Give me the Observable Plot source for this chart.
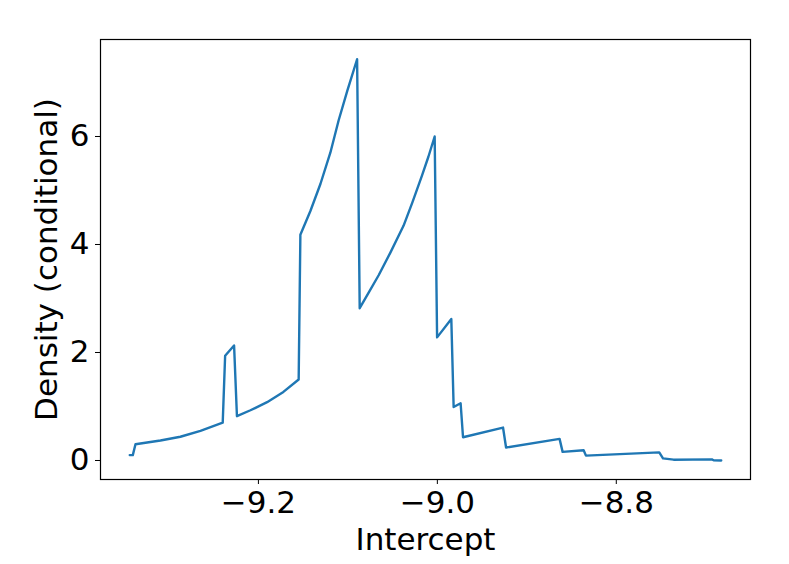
<!DOCTYPE html>
<html>
<head>
<meta charset="utf-8">
<script src="https://cdn.jsdelivr.net/npm/d3@7"></script>
<script src="https://cdn.jsdelivr.net/npm/@observablehq/plot@0.6"></script>
<style>
  html, body { margin: 0; padding: 0; background: #fff; }
  #chart { width: 789px; height: 564px; }
</style>
</head>
<body>
<div id="chart"></div>
<script>
// Intercept values (x)
const intercept = [
  -9.3438, -9.3404, -9.3374, -9.3095, -9.2872, -9.2648, -9.2399, -9.2372,
  -9.2272, -9.2240, -9.2089, -9.1903, -9.1721, -9.1550, -9.1531, -9.1419,
  -9.1307, -9.1196, -9.1103, -9.1006, -9.0897, -9.0868, -9.0771, -9.0656,
  -9.0525, -9.0377, -9.0279, -9.0171, -9.0101, -9.0030, -9.0003, -8.9844,
  -8.9818, -8.9740, -8.9713, -8.9266, -8.9232, -8.8634, -8.8600, -8.8365,
  -8.8339, -8.7520, -8.7478, -8.7360, -8.6931, -8.6913, -8.6827
];
// Conditional density values (y)
const density = [
  0.10, 0.10, 0.30, 0.37, 0.44, 0.55, 0.70, 1.94,
  2.13, 0.82, 0.93, 1.08, 1.27, 1.50, 4.18, 4.62,
  5.12, 5.70, 6.30, 6.85, 7.43, 2.82, 3.10, 3.43,
  3.85, 4.35, 4.78, 5.28, 5.62, 6.00, 2.28, 2.62,
  0.99, 1.06, 0.43, 0.61, 0.24, 0.40, 0.16, 0.19,
  0.09, 0.15, 0.04, 0.015, 0.02, 0.005, 0.0
];
const xTicks = [-9.2, -9.0, -8.8];
const yTicks = [0, 2, 4, 6];
const xLabel = "Intercept";
const yLabel = "Density (conditional)";

const data = intercept.map((x, i) => ({x, y: density[i]}));
const fmtX = d => d.toFixed(1).replace("-", "\u2212");
const FS = 31;

const chart = Plot.plot({
  width: 789,
  height: 564,
  marginLeft: 100,
  marginRight: 39,
  marginTop: 39,
  marginBottom: 85,
  style: {fontFamily: "DejaVu Sans", fontSize: FS + "px", color: "black", background: "white"},
  x: {domain: [-9.3765, -8.650]},
  y: {domain: [-0.352, 7.796]},
  marks: [
    Plot.line(data, {x: "x", y: "y", stroke: "#1f77b4", strokeWidth: 2.4}),
    Plot.frame({stroke: "black", strokeWidth: 1.2}),
    Plot.axisX({ticks: xTicks, tickFormat: fmtX, tickSize: 5, tickPadding: 6, label: null, fontSize: FS}),
    Plot.axisY({ticks: yTicks, tickFormat: d => String(d), tickSize: 5, tickPadding: 6, label: null, fontSize: FS}),
    Plot.text([xLabel], {frameAnchor: "bottom", textAnchor: "middle", lineAnchor: "middle", dy: 61, fontSize: FS, fill: "black"}),
    Plot.text([yLabel], {frameAnchor: "left", textAnchor: "middle", lineAnchor: "middle", dx: -53, rotate: -90, fontSize: FS, fill: "black"})
  ]
});
document.getElementById("chart").appendChild(chart);
</script>
</body>
</html>
